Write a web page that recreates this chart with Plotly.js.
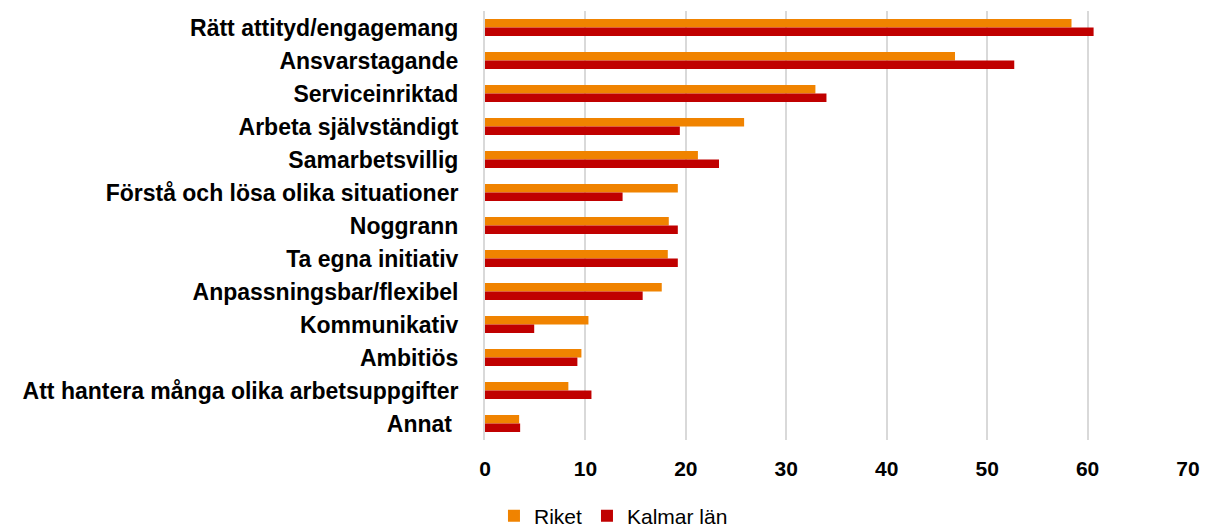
<!DOCTYPE html>
<html>
<head>
<meta charset="utf-8">
<script src="https://cdn.plot.ly/plotly-3.0.1.min.js"></script>
<style>html,body{margin:0;padding:0;background:#fff}#chart{width:1210px;height:531px}</style>
</head>
<body>
<div id="chart"></div>
<script>
const categories = [
  "Rätt attityd/engagemang",
  "Ansvarstagande",
  "Serviceinriktad",
  "Arbeta självständigt",
  "Samarbetsvillig",
  "Förstå och lösa olika situationer",
  "Noggrann",
  "Ta egna initiativ",
  "Anpassningsbar/flexibel",
  "Kommunikativ",
  "Ambitiös",
  "Att hantera många olika arbetsuppgifter",
  "Annat "
];
const riket = [58.4, 46.8, 32.9, 25.8, 21.2, 19.2, 18.3, 18.2, 17.6, 10.3, 9.6, 8.3, 3.4];
const kalmar = [60.6, 52.7, 34.0, 19.4, 23.3, 13.7, 19.2, 19.2, 15.7, 4.9, 9.2, 10.6, 3.5];
const xTicks = [0, 10, 20, 30, 40, 50, 60, 70];

const data = [
  {type: 'bar', orientation: 'h', name: 'Riket', y: categories, x: riket,
   marker: {color: '#F08300'}, hoverinfo: 'x+y'},
  {type: 'bar', orientation: 'h', name: 'Kalmar län', y: categories, x: kalmar,
   marker: {color: '#C00000'}, hoverinfo: 'x+y'}
];

const FONT = 'Liberation Sans, Arial, sans-serif';
const layout = {
  width: 1210, height: 531,
  margin: {l: 485, r: 22, t: 11, b: 91},
  paper_bgcolor: '#fff', plot_bgcolor: '#fff',
  barmode: 'group', bargap: 0.48, bargroupgap: 0,
  font: {family: FONT, color: '#000'},
  showlegend: true,
  legend: {orientation: 'h', xref: 'container', x: 0.507, xanchor: 'center',
           yref: 'container', y: 0.028, yanchor: 'middle',
           font: {size: 21, color: '#000'}, itemwidth: 30, tracegroupgap: 0},
  xaxis: {range: [0, 70], tickvals: xTicks, ticktext: xTicks.map(String),
          showgrid: true, gridcolor: '#d9d9d9', gridwidth: 2,
          zeroline: false, showline: false, ticks: '',
          ticklabelstandoff: 14,
          tickfont: {size: 21, family: FONT, color: '#000', weight: 'bold'},
          fixedrange: true},
  yaxis: {type: 'category', autorange: 'reversed', showgrid: false, zeroline: false,
          showline: true, linecolor: '#d9d9d9', linewidth: 2, ticks: '',
          ticklabelstandoff: 20,
          tickfont: {size: 23, family: FONT, color: '#000', weight: 'bold'},
          fixedrange: true}
};

Plotly.newPlot('chart', data, layout, {displayModeBar: false, staticPlot: true});
</script>
</body>
</html>
